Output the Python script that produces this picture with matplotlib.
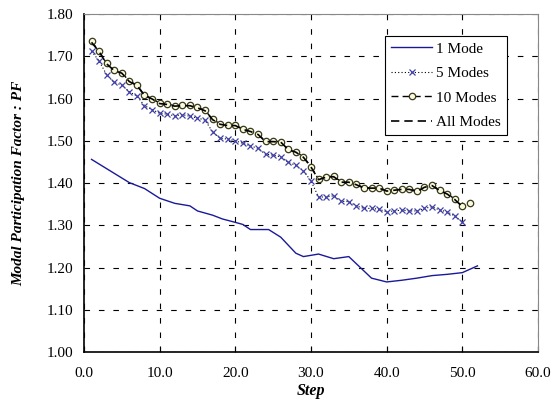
import matplotlib
matplotlib.use("Agg")
import matplotlib.pyplot as plt

plt.rcParams['font.family'] = ['Liberation Serif', 'DejaVu Serif']

one_x = [1, 4, 6, 8, 10, 12, 14, 15, 17, 18.3, 20, 21, 22, 24.4, 26, 28, 29, 31, 33, 35,
         38, 40, 42, 44, 46, 48, 50, 52]
one_y = [1.456, 1.423, 1.401, 1.387, 1.364, 1.352, 1.346, 1.334, 1.324, 1.315, 1.307, 1.302,
         1.290, 1.290, 1.272, 1.234, 1.226, 1.232, 1.221, 1.226, 1.175, 1.166, 1.170, 1.175,
         1.181, 1.184, 1.188, 1.204]

five_x = list(range(1, 51))
five_y = [1.712, 1.689, 1.656, 1.638, 1.632, 1.616, 1.606, 1.583, 1.574, 1.565,
          1.563, 1.559, 1.562, 1.558, 1.554, 1.549, 1.521, 1.506, 1.504, 1.500,
          1.494, 1.488, 1.482, 1.468, 1.466, 1.462, 1.449, 1.442, 1.429, 1.405,
          1.367, 1.367, 1.370, 1.357, 1.356, 1.346, 1.340, 1.340, 1.338, 1.332,
          1.334, 1.336, 1.334, 1.334, 1.340, 1.344, 1.336, 1.332, 1.322, 1.308]

ten_x = list(range(1, 52))
ten_y = [1.735, 1.712, 1.683, 1.667, 1.661, 1.641, 1.632, 1.608, 1.600, 1.589,
         1.587, 1.583, 1.584, 1.584, 1.579, 1.572, 1.551, 1.540, 1.537, 1.537,
         1.528, 1.523, 1.516, 1.499, 1.499, 1.498, 1.480, 1.474, 1.462, 1.439,
         1.409, 1.415, 1.416, 1.403, 1.403, 1.397, 1.389, 1.389, 1.389, 1.382,
         1.384, 1.386, 1.386, 1.381, 1.391, 1.395, 1.383, 1.375, 1.362, 1.345,
         1.352]

all_x = list(range(1, 51))
all_y = [1.733, 1.711, 1.682, 1.666, 1.660, 1.640, 1.631, 1.607, 1.599, 1.588,
         1.586, 1.582, 1.583, 1.583, 1.578, 1.571, 1.550, 1.539, 1.536, 1.536,
         1.527, 1.522, 1.515, 1.498, 1.498, 1.497, 1.479, 1.473, 1.461, 1.438,
         1.408, 1.414, 1.415, 1.402, 1.402, 1.396, 1.388, 1.388, 1.388, 1.381,
         1.383, 1.385, 1.385, 1.380, 1.390, 1.394, 1.382, 1.374, 1.361, 1.344]

x_ticks = [0, 10, 20, 30, 40, 50, 60]
y_ticks = [1.00, 1.10, 1.20, 1.30, 1.40, 1.50, 1.60, 1.70, 1.80]

fig = plt.figure(figsize=(5.56, 4.08), dpi=100)
ax = fig.add_axes([0.151, 0.137, 0.8166, 0.8287])

ax.plot(one_x, one_y, color='#1a1a99', lw=1.0, label='1 Mode')
ax.plot(five_x, five_y, color='black', lw=0.8, ls=(0, (1, 2)), marker='x',
        markersize=4.2, markeredgecolor='#4040a8', markeredgewidth=0.9, label='5 Modes')
ax.plot(ten_x, ten_y, color='black', lw=1.0, ls=(0, (5, 3)), marker='o',
        markersize=4.6, markerfacecolor='#fafae0', markeredgecolor='#3a3a1a',
        markeredgewidth=0.9, label='10 Modes')
ax.plot(all_x, all_y, color='black', lw=1.2, ls=(0, (5, 3)), label='All Modes')

ax.set_xlim(0, 60)
ax.set_ylim(1.0, 1.8)
ax.set_xticks(x_ticks)
ax.set_xticklabels([f"{v:.1f}" for v in x_ticks])
ax.set_yticks(y_ticks)
ax.set_yticklabels([f"{v:.2f}" for v in y_ticks])
ax.tick_params(axis='x', direction='in', labelsize=11, length=4, width=0.8,
               colors='black', pad=11)
ax.tick_params(axis='y', direction='in', labelsize=11, length=0, colors='black', pad=8)

ax.grid(True, color='black', lw=0.8, ls=(0, (5, 8)))
for s in ['left', 'bottom']:
    ax.spines[s].set_color('black')
    ax.spines[s].set_linewidth(1.2)
for s in ['top', 'right']:
    ax.spines[s].set_color('#888888')
    ax.spines[s].set_linewidth(0.8)

ax.set_xlabel('Step', fontsize=11.5, fontweight='bold', style='italic', labelpad=2)
ax.set_ylabel('Modal Participation Factor : PF', fontsize=11, fontweight='bold',
              style='italic', labelpad=15)

leg = ax.legend(loc='upper right', bbox_to_anchor=(0.932, 0.935), fontsize=11,
                frameon=True, fancybox=False, edgecolor='black', framealpha=1,
                borderpad=0.4, labelspacing=0.7, handlelength=2.7, handletextpad=0.25,
                borderaxespad=0)
leg.get_frame().set_linewidth(0.8)

fig.savefig('out.png', dpi=100)
